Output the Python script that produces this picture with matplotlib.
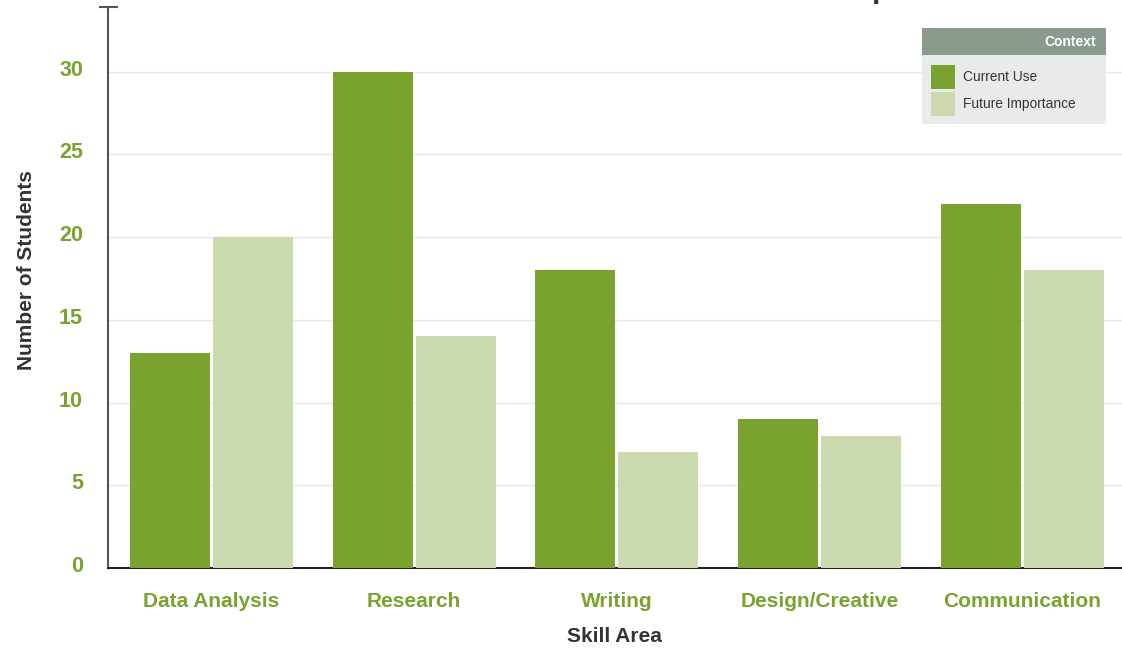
import numpy as np
import matplotlib
matplotlib.use("Agg")
import matplotlib.pyplot as plt
import matplotlib.transforms as mtransforms
from matplotlib.patches import FancyBboxPatch, Rectangle
from matplotlib.lines import Line2D

plt.rcParams['font.family'] = ['Liberation Sans', 'DejaVu Sans']

skills = ['Data Analysis', 'Research', 'Writing', 'Design/Creative', 'Communication']
current_use = [13, 30, 18, 9, 22]
future_importance = [20, 14, 7, 8, 18]
y_ticks = [0, 5, 10, 15, 20, 25, 30]

green = '#7aa22f'
light_green = '#cadaae'
dark_text = '#333333'

W, H = 1122, 649
fig = plt.figure(figsize=(W / 100, H / 100), dpi=100)


def fx(px):
    return px / W


def fy(py):
    return 1 - py / H


# one category step is about 202.75 px; axes runs past the right edge
step = 202.75
ax = fig.add_axes([fx(108), fy(568), fx(5 * step), (568 - 7) / H])

x = np.arange(len(skills))
bw = 80 / step
off = 41.5 / step
ax.bar(x - off, current_use, width=bw, color=green, zorder=3)
ax.bar(x + off, future_importance, width=bw, color=light_green, zorder=3)

ax.set_xlim(-0.51, len(skills) - 0.51)
ax.set_ylim(0, 33.9)

ax.set_yticks(y_ticks)
ax.set_yticklabels([str(v) for v in y_ticks])
ax.set_xticks(x)
ax.set_xticklabels(skills)
ax.tick_params(axis='y', length=0, pad=18, labelsize=15.5, labelcolor=green)
ax.tick_params(axis='x', length=0, pad=17, labelsize=15, labelcolor=green)
for lab in ax.get_xticklabels() + ax.get_yticklabels():
    lab.set_fontweight('bold')

# y labels sit a few pixels above their gridlines
shift = mtransforms.ScaledTranslation(0, 4 / 100, fig.dpi_scale_trans)
for lab in ax.get_yticklabels():
    lab.set_transform(lab.get_transform() + shift)

ax.grid(axis='y', color='#e6e6e6', linewidth=1, zorder=0)
ax.grid(axis='x', visible=False)
for s in ['top', 'right']:
    ax.spines[s].set_visible(False)
ax.spines['left'].set_color('#555555')
ax.spines['left'].set_linewidth(1.5)
ax.spines['bottom'].set_color('#222222')
ax.spines['bottom'].set_linewidth(1.5)

# cap at the top of the y axis
cap = Line2D([-8 / (5 * step), 9 / (5 * step)], [1, 1], transform=ax.transAxes,
             color='#555555', linewidth=1.5, clip_on=False)
ax.add_line(cap)

ax.set_xlabel('Skill Area', fontsize=15, fontweight='bold', color=dark_text, labelpad=12)
fig.text(fx(27), fy(270), 'Number of Students', rotation=90, ha='center', va='center',
         fontsize=15, fontweight='bold', color=dark_text)

# title, mostly cut off at the top as in the original
fig.text(fx(612), fy(-2.5), 'Current Student Use vs. Perceived Career Importance',
         ha='center', va='baseline', fontsize=22, fontweight='bold', color=dark_text)

# legend box
box = FancyBboxPatch((fx(922), fy(124)), fx(1106 - 922), (124 - 28) / H,
                     boxstyle='round,pad=0,rounding_size=0.004', transform=fig.transFigure,
                     facecolor='#e9ebea', edgecolor='none', zorder=5)
fig.patches.append(box)
head = Rectangle((fx(922), fy(55)), fx(1106 - 922), (55 - 28) / H,
                 transform=fig.transFigure, facecolor='#8a9a8c', edgecolor='none', zorder=6)
fig.patches.append(head)
fig.text(fx(1096), fy(42), 'Context', ha='right', va='center', fontsize=10,
         fontweight='bold', color='white', zorder=7)

for i, (name, col) in enumerate([('Current Use', green), ('Future Importance', light_green)]):
    top = 65 + i * 27
    sw = Rectangle((fx(931), fy(top + 24)), fx(24), 24 / H, transform=fig.transFigure,
                   facecolor=col, edgecolor='none', zorder=6)
    fig.patches.append(sw)
    fig.text(fx(963), fy(top + 12), name, ha='left', va='center', fontsize=9.9,
             color=dark_text, zorder=7)

fig.savefig('out.png', dpi=100)
